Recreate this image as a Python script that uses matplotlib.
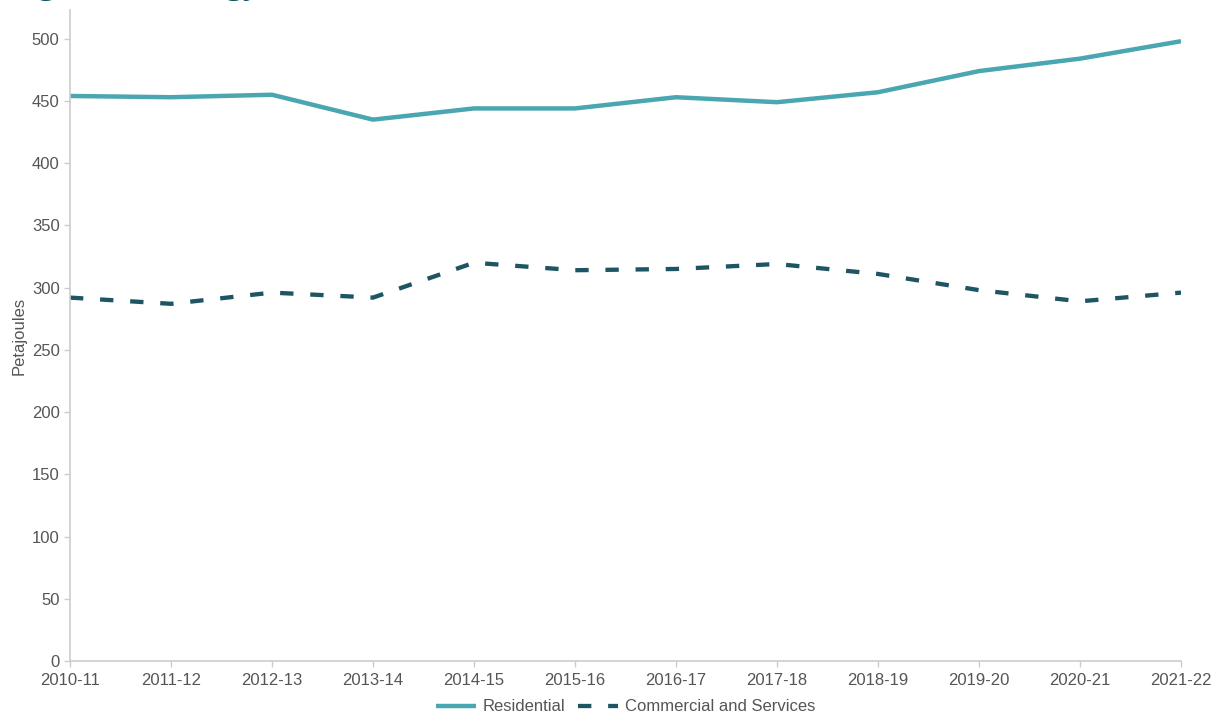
import matplotlib.pyplot as plt

plt.rcParams["font.family"] = ["Liberation Sans", "DejaVu Sans"]

years = ["2010-11", "2011-12", "2012-13", "2013-14", "2014-15", "2015-16",
         "2016-17", "2017-18", "2018-19", "2019-20", "2020-21", "2021-22"]
residential = [454, 453, 455, 435, 444, 444, 453, 449, 457, 474, 484, 498]
commercial = [292, 287, 296, 292, 320, 314, 315, 319, 311, 298, 289, 296]
y_ticks = [0, 50, 100, 150, 200, 250, 300, 350, 400, 450, 500]

res_color = "#4aa6b0"
com_color = "#1d5563"
text_color = "#555555"
axis_color = "#cccccc"

fig = plt.figure(figsize=(12.15, 7.22), dpi=100)
ax = fig.add_axes([0.0576, 0.0845, 0.9144, 0.9015])

x = list(range(len(years)))
ax.plot(x, residential, color=res_color, linewidth=3.2, label="Residential",
        solid_capstyle="butt")
ax.plot(x, commercial, color=com_color, linewidth=3.1, label="Commercial and Services",
        linestyle=(0, (3.1, 3.9)), dash_capstyle="butt")

ax.set_xlim(0, len(years) - 1)
ax.set_ylim(0, 523)
ax.set_xticks(x)
ax.set_xticklabels(years)
ax.set_yticks(y_ticks)

for side in ["top", "right"]:
    ax.spines[side].set_visible(False)
for side in ["left", "bottom"]:
    ax.spines[side].set_color(axis_color)
    ax.spines[side].set_linewidth(1.2)

ax.tick_params(axis="both", colors=axis_color, labelcolor=text_color,
               labelsize=12, length=4, width=1)
ax.tick_params(axis="x", pad=5)
ax.set_ylabel("Petajoules", color=text_color, fontsize=12, labelpad=4)

ax.legend(loc="upper center", bbox_to_anchor=(0.5, -0.036), ncol=2, frameon=False,
          fontsize=12, labelcolor=text_color, handlelength=2.4,
          handletextpad=0.4, columnspacing=0.8)

# cropped title at the very top of the image (only descenders visible)
fig.text(0.010, 1.0095, "Figure 6: Energy use in residential and commercial sectors",
         color="#0d4f5c", fontsize=24, va="baseline", ha="left",
         family=["Open Sans", "DejaVu Sans"])

fig.savefig("out.png", dpi=100)
